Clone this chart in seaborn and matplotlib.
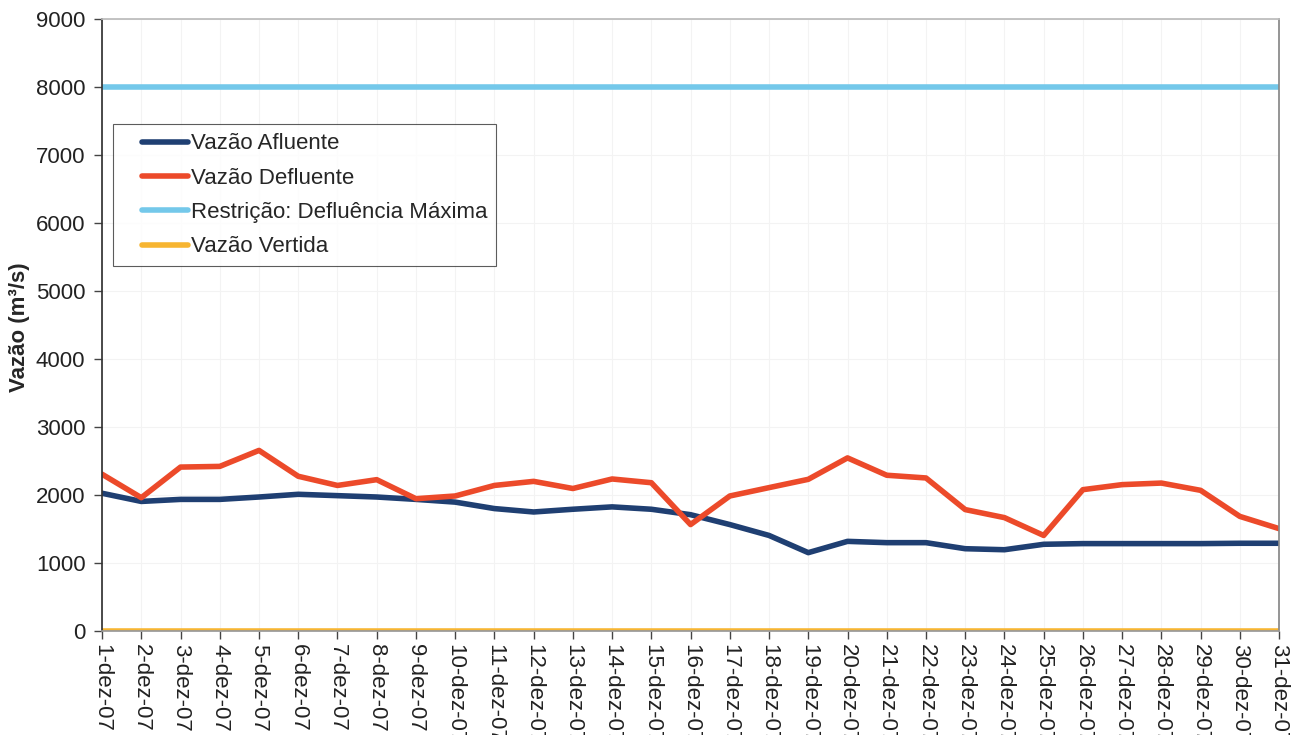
import numpy as np
import pandas as pd
import matplotlib
matplotlib.use("Agg")
import matplotlib.pyplot as plt
import seaborn as sns

sns.set_theme(style="white")
plt.rcParams['font.family'] = ['Liberation Sans', 'DejaVu Sans']

# data (m3/s), daily, December 2007
days = [f"{d}-dez-07" for d in range(1, 32)]
afluente = [2030, 1910, 1940, 1940, 1975, 2015, 1995, 1975, 1940, 1900,
            1805, 1755, 1795, 1830, 1795, 1715, 1570, 1410, 1157, 1323,
            1304, 1304, 1215, 1200, 1280, 1290, 1290, 1290, 1290, 1295, 1295]
defluente = [2310, 1965, 2415, 2425, 2660, 2280, 2145, 2230, 1950, 1990,
             2145, 2205, 2100, 2240, 2185, 1570, 1990, 2113, 2235, 2550,
             2295, 2255, 1790, 1672, 1410, 2083, 2157, 2180, 2073, 1690, 1510]
restricao = [8000] * 31
vertida = [0] * 31

df = pd.DataFrame({
    'dia': np.arange(31),
    'Vazão Afluente': afluente,
    'Vazão Defluente': defluente,
    'Restrição: Defluência Máxima': restricao,
    'Vazão Vertida': vertida,
})
long = df.melt(id_vars='dia', var_name='serie', value_name='vazao')

palette = {
    'Vazão Afluente': '#1f3f72',
    'Vazão Defluente': '#ec4a2a',
    'Restrição: Defluência Máxima': '#74c8ea',
    'Vazão Vertida': '#f7b531',
}

fig, ax = plt.subplots(figsize=(12.92, 7.35), dpi=100)
fig.subplots_adjust(left=0.079, right=0.99, top=0.974, bottom=0.141)

sns.lineplot(data=long, x='dia', y='vazao', hue='serie', palette=palette,
             linewidth=4, ax=ax)

ax.set_xlim(0, 30)
ax.set_ylim(0, 9000)
ax.set_yticks(np.arange(0, 9001, 1000))
ax.set_xticks(np.arange(31))
ax.set_xticklabels(days, rotation=270, ha='center', va='top', fontsize=16)
ax.tick_params(axis='y', labelsize=16, length=6, width=1, direction='out',
               left=True, color='#444444', pad=6)
ax.tick_params(axis='x', length=6, width=1, direction='out', bottom=True,
               color='#444444', pad=3)
for lbl in ax.get_yticklabels() + ax.get_xticklabels():
    lbl.set_color('#222222')

ax.set_xlabel('')
ax.set_ylabel('Vazão (m³/s)', fontsize=16, fontweight='bold')
ax.yaxis.set_label_coords(-0.061, 0.497)

ax.grid(True, color='#f3f3f3', linewidth=0.8)
ax.spines['left'].set_color('#333333')
ax.spines['bottom'].set_color('#999999')
ax.spines['top'].set_color('#bbbbbb')
ax.spines['right'].set_color('#888888')

leg = ax.legend(loc='upper left', bbox_to_anchor=(0.009, 0.828), fontsize=16,
                frameon=True, fancybox=False, edgecolor='#333333',
                handlelength=3.0, handletextpad=0.12, labelspacing=0.6,
                borderpad=0.4, borderaxespad=0)
leg.get_frame().set_linewidth(0.8)
# short handle sitting right next to the text, with empty room on its left
for line in leg.get_lines():
    line.set_linewidth(4)
    xs = np.asarray(line.get_xdata(), dtype=float)
    ys = np.asarray(line.get_ydata(), dtype=float)
    x0, x1 = xs.min(), xs.max()
    line.set_data([x0 + (x1 - x0) * 0.3, x1], [ys[0], ys[0]])

fig.savefig('out.png', dpi=100)
